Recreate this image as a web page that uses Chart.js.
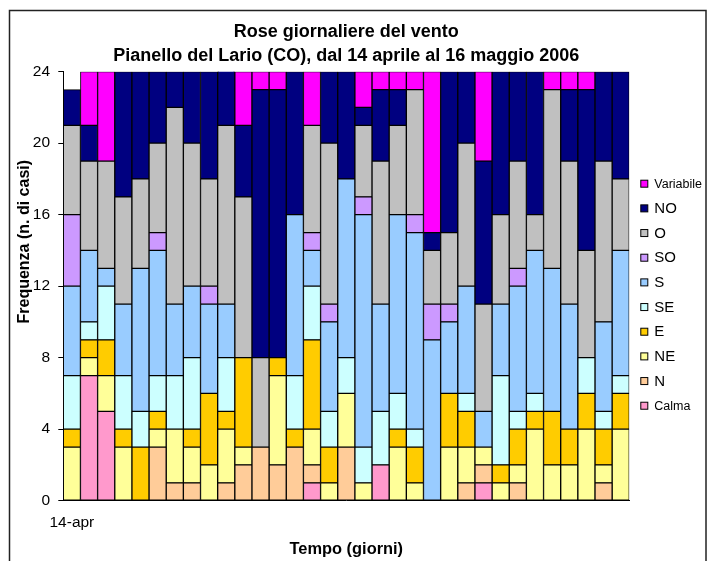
<!DOCTYPE html>
<html>
<head>
<meta charset="utf-8">
<script src="https://cdn.jsdelivr.net/npm/chart.js@4"></script>
<style>
  html, body { margin: 0; padding: 0; background: #fff; }
</style>
</head>
<body>
<canvas id="chart" width="720" height="561"></canvas>
<script>
  // giorni dal 14 aprile al 16 maggio 2006
  const days = [
    '14-apr', '15-apr', '16-apr', '17-apr', '18-apr', '19-apr', '20-apr', '21-apr', '22-apr',
    '23-apr', '24-apr', '25-apr', '26-apr', '27-apr', '28-apr', '29-apr', '30-apr',
    '1-mag', '2-mag', '3-mag', '4-mag', '5-mag', '6-mag', '7-mag', '8-mag',
    '9-mag', '10-mag', '11-mag', '12-mag', '13-mag', '14-mag', '15-mag', '16-mag'
  ];

  // numero di casi per direzione (dal basso verso l'alto nella pila)
  const calma     = [0, 7, 5, 0, 0, 0, 0, 0, 0, 0, 0, 0, 0, 0, 1, 0, 0, 0, 2, 0, 0, 0, 0, 0, 1, 0, 0, 0, 0, 0, 0, 0, 0];
  const nord      = [0, 0, 0, 0, 0, 3, 1, 1, 0, 1, 2, 3, 2, 3, 1, 0, 3, 0, 0, 0, 0, 0, 0, 1, 1, 0, 1, 0, 0, 0, 0, 1, 0];
  const nordEst   = [3, 1, 2, 3, 0, 1, 3, 2, 2, 3, 1, 0, 5, 0, 2, 1, 3, 1, 0, 3, 1, 0, 3, 2, 1, 1, 1, 4, 2, 2, 4, 1, 4];
  const est       = [1, 1, 2, 1, 3, 1, 0, 1, 4, 1, 5, 0, 1, 1, 5, 2, 0, 0, 0, 1, 2, 0, 3, 2, 0, 1, 2, 1, 3, 2, 2, 2, 2];
  const sudEst    = [3, 1, 3, 3, 2, 2, 3, 4, 0, 3, 0, 0, 0, 3, 3, 2, 2, 2, 3, 2, 1, 0, 0, 1, 0, 5, 1, 1, 0, 0, 2, 1, 1];
  const sud       = [5, 4, 1, 4, 8, 7, 4, 4, 5, 3, 0, 0, 0, 9, 2, 5, 10, 13, 6, 10, 11, 9, 4, 6, 2, 4, 7, 8, 8, 7, 0, 5, 7];
  const sudOvest  = [4, 0, 0, 0, 0, 1, 0, 0, 1, 0, 0, 0, 0, 0, 1, 1, 0, 1, 0, 0, 1, 2, 1, 0, 0, 0, 1, 0, 0, 0, 0, 0, 0];
  const ovest     = [5, 5, 6, 6, 5, 5, 11, 8, 6, 10, 9, 5, 0, 0, 6, 9, 0, 4, 8, 5, 7, 3, 4, 8, 6, 5, 6, 2, 10, 8, 6, 9, 4];
  const nordOvest = [2, 2, 0, 7, 6, 4, 2, 4, 6, 4, 4, 15, 15, 8, 0, 4, 6, 1, 4, 2, 0, 1, 9, 4, 8, 8, 5, 8, 0, 4, 9, 5, 6];
  const variabile = [0, 3, 5, 0, 0, 0, 0, 0, 0, 0, 3, 1, 1, 0, 3, 0, 0, 2, 1, 1, 1, 9, 0, 0, 5, 0, 0, 0, 1, 1, 1, 0, 0];

  const yTicks = [0, 4, 8, 12, 16, 20, 24];

  const FONT = "'Liberation Sans', Arial, sans-serif";

  function serie(label, values, color) {
    return {
      label: label,
      data: values.map((v) => (v === 0 ? null : v)),
      backgroundColor: color,
      borderColor: '#000',
      borderWidth: 1,
      borderSkipped: false,
      barPercentage: 1,
      categoryPercentage: 1
    };
  }

  // cornice esterna del grafico
  const framePlugin = {
    id: 'frame',
    beforeDraw(chart) {
      const ctx = chart.ctx;
      ctx.save();
      ctx.fillStyle = '#fff';
      ctx.fillRect(0, 0, chart.width, chart.height);
      ctx.strokeStyle = '#222';
      ctx.lineWidth = 1.5;
      ctx.strokeRect(9.5, 10.5, 696.5, 700);
      ctx.restore();
    }
  };

  // titolo asse Y (in Excel non e' centrato sull'area del grafico)
  const yTitle = {
    id: 'yTitle',
    afterDraw(chart) {
      const ctx = chart.ctx;
      ctx.save();
      ctx.translate(24.5, chart.chartArea.top + 170);
      ctx.rotate(-Math.PI / 2);
      ctx.textAlign = 'center';
      ctx.textBaseline = 'middle';
      ctx.fillStyle = '#000';
      ctx.font = 'bold 16px ' + FONT;
      ctx.fillText('Frequenza (n. di casi)', 0, 0);
      ctx.restore();
    }
  };

  // legenda a destra, come in Excel
  const sideLegend = {
    id: 'sideLegend',
    afterDraw(chart) {
      const { ctx, chartArea } = chart;
      const sets = chart.data.datasets.slice().reverse();
      const x = chartArea.right + 11;
      let y = chartArea.top + 112;
      ctx.save();
      ctx.textBaseline = 'middle';
      ctx.textAlign = 'left';
      sets.forEach((ds) => {
        ctx.fillStyle = ds.backgroundColor;
        ctx.fillRect(x + 0.5, y - 3.5, 7, 7);
        ctx.strokeStyle = '#000';
        ctx.lineWidth = 1;
        ctx.strokeRect(x + 0.5, y - 3.5, 7, 7);
        ctx.fillStyle = '#000';
        ctx.font = (ds.label.length > 3 ? '12.5px ' : '15px ') + FONT;
        ctx.fillText(ds.label, x + 14, y + 0.5);
        y += 24.67;
      });
      ctx.restore();
    }
  };

  new Chart(document.getElementById('chart'), {
    type: 'bar',
    data: {
      labels: days,
      datasets: [
        serie('Calma', calma, '#FF99CC'),
        serie('N', nord, '#FFCC99'),
        serie('NE', nordEst, '#FFFF99'),
        serie('E', est, '#FFCC00'),
        serie('SE', sudEst, '#CCFFFF'),
        serie('S', sud, '#99CCFF'),
        serie('SO', sudOvest, '#CC99FF'),
        serie('O', ovest, '#C0C0C0'),
        serie('NO', nordOvest, '#000080'),
        serie('Variabile', variabile, '#FF00FF')
      ]
    },
    options: {
      responsive: false,
      animation: false,
      layout: { padding: { left: 9, right: 90.7, top: 10, bottom: 0 } },
      plugins: {
        legend: { display: false },
        tooltip: { enabled: false },
        title: {
          display: true,
          fullSize: false,
          text: 'Rose giornaliere del vento',
          color: '#000',
          font: { family: FONT, size: 18, weight: 'bold' },
          padding: { top: 11.2, bottom: 0 }
        },
        subtitle: {
          display: true,
          fullSize: false,
          text: 'Pianello del Lario (CO), dal 14 aprile al 16 maggio 2006',
          color: '#000',
          font: { family: FONT, size: 18, weight: 'bold' },
          padding: { top: 2.4, bottom: 4.9 }
        }
      },
      scales: {
        x: {
          stacked: true,
          offset: true,
          grid: { display: false, drawTicks: false },
          border: { display: true, color: '#000', width: 1 },
          ticks: {
            autoSkip: false,
            maxRotation: 0,
            padding: 13,
            color: '#000',
            font: { family: FONT, size: 15.5 },
            callback: (value, index) => (index === 0 ? days[index] : '')
          },
          title: {
            display: true,
            text: 'Tempo (giorni)',
            color: '#000',
            font: { family: FONT, size: 16.4, weight: 'bold' },
            padding: { top: 0, bottom: 1.2 }
          },
          afterFit: (scale) => { scale.height = 60.3; }
        },
        y: {
          stacked: true,
          min: yTicks[0],
          max: yTicks[yTicks.length - 1],
          afterBuildTicks: (scale) => { scale.ticks = yTicks.map((v) => ({ value: v })); },
          grid: { drawOnChartArea: false, drawTicks: true, tickLength: 5, color: '#000' },
          border: { display: true, color: '#000', width: 1 },
          ticks: {
            padding: 8.3,
            color: '#000',
            font: { family: FONT, size: 15.5 }
          },
          title: { display: false },
          afterFit: (scale) => { scale.width = 54.3; }
        }
      }
    },
    plugins: [framePlugin, yTitle, sideLegend]
  });
</script>
</body>
</html>
